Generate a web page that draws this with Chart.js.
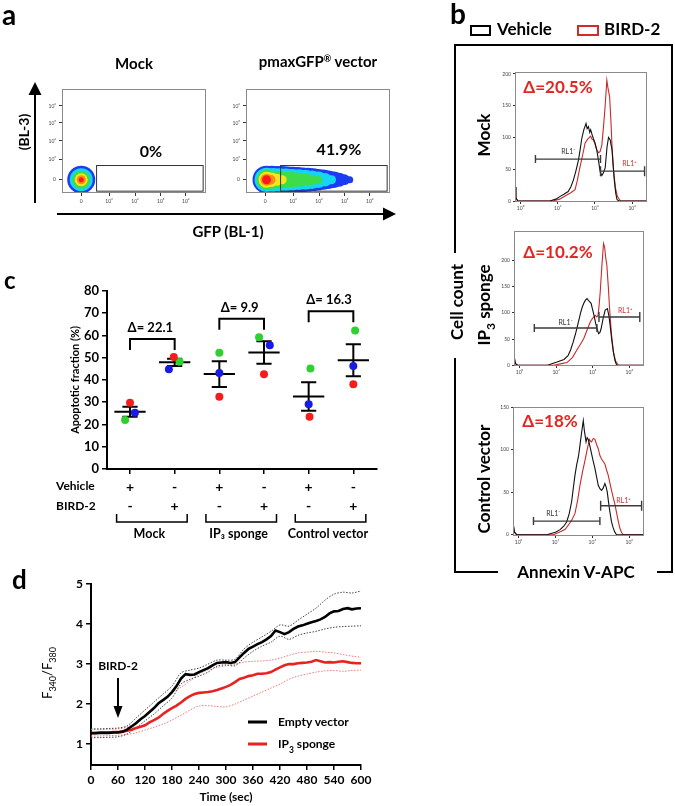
<!DOCTYPE html>
<html lang="en">
<head>
<meta charset="UTF-8">
<title>BIRD-2 / IP3 sponge figure</title>
<script src="https://cdn.jsdelivr.net/npm/chart.js"></script>
<style>
  body { margin: 0; background: #fff; }
  #fig { position: relative; width: 675px; height: 806px; background: #fff; }
  canvas { position: absolute; }
  #overlay { position: absolute; left: 0; top: 0; pointer-events: none; }
</style>
</head>
<body>
<div id="fig">
  <canvas id="gfpMock" width="182" height="140" style="left:38px;top:75px"></canvas>
  <canvas id="gfpVector" width="182" height="140" style="left:222px;top:75px"></canvas>
  <canvas id="histMock" width="165" height="152" style="left:490px;top:62px"></canvas>
  <canvas id="histSponge" width="163" height="157" style="left:489px;top:221px"></canvas>
  <canvas id="histControl" width="164" height="151" style="left:488px;top:397px"></canvas>
  <canvas id="apoptosis" width="345" height="270" style="left:40px;top:280px"></canvas>
  <canvas id="calcium" width="335" height="232" style="left:40px;top:574px"></canvas>

  <svg id="overlay" width="675" height="806" font-family="Lato, 'Noto Sans', sans-serif" font-weight="bold">
    <text x="2" y="25" font-size="28">a</text>
    <text x="450" y="24" font-size="28">b</text>
    <text x="4" y="289" font-size="24">c</text>
    <text x="12" y="589" font-size="26">d</text>

    <!-- panel a -->
    <text x="134" y="69" font-size="15" text-anchor="middle">Mock</text>
    <text x="318" y="67" font-size="15" text-anchor="middle">pmaxGFP<tspan font-size="9" baseline-shift="super">®</tspan> vector</text>
    <text font-size="14" text-anchor="middle" dominant-baseline="central" transform="translate(23,132) rotate(-90)">(BL-3)</text>
    <line x1="35" y1="203" x2="35" y2="92" stroke="#000" stroke-width="2"/>
    <polygon points="35,82 28.5,95 41.5,95" fill="#000"/>
    <line x1="57" y1="214" x2="385" y2="214" stroke="#000" stroke-width="2"/>
    <polygon points="396,214 383,207.5 383,220.5" fill="#000"/>
    <text x="228" y="237" font-size="15" text-anchor="middle">GFP (BL-1)</text>
    <text x="151" y="157" font-size="16" text-anchor="middle">0%</text>
    <text x="339" y="155" font-size="16" text-anchor="middle">41.9%</text>

    <!-- panel b -->
    <rect x="471" y="26" width="19" height="9" fill="none" stroke="#000" stroke-width="2"/>
    <text x="497" y="35" font-size="17">Vehicle</text>
    <rect x="578" y="26" width="20" height="9" fill="none" stroke="#d42a2a" stroke-width="2"/>
    <text x="604" y="35" font-size="17">BIRD-2</text>
    <path d="M455,253 V45 H672 V572 H657 M498,572 H455 V358" fill="none" stroke="#000" stroke-width="2"/>
    <text font-size="17" text-anchor="middle" dominant-baseline="central" transform="translate(456,302) rotate(-90)">Cell count</text>
    <text x="576" y="578" font-size="17" text-anchor="middle">Annexin V-APC</text>
    <text font-size="17" text-anchor="middle" dominant-baseline="central" transform="translate(483,135) rotate(-90)">Mock</text>
    <text font-size="17" text-anchor="middle" dominant-baseline="central" transform="translate(483,305) rotate(-90)">IP<tspan font-size="12" baseline-shift="sub">3</tspan> sponge</text>
    <text font-size="17" text-anchor="middle" dominant-baseline="central" transform="translate(483,479) rotate(-90)">Control vector</text>
    <text x="558" y="93" font-size="17" fill="#e3261f" text-anchor="middle">Δ=20.5%</text>
    <text x="558" y="258" font-size="17" fill="#e3261f" text-anchor="middle">Δ=10.2%</text>
    <text x="550" y="427" font-size="17" fill="#e3261f" text-anchor="middle">Δ=18%</text>

    <!-- panel d -->
    <text font-size="13" font-weight="normal" text-anchor="middle" dominant-baseline="central" transform="translate(47,673) rotate(-90)">F<tspan font-size="9" baseline-shift="sub">340</tspan>/F<tspan font-size="9" baseline-shift="sub">380</tspan></text>
    <line x1="248" y1="722" x2="267" y2="722" stroke="#000" stroke-width="3"/>
    <text x="278" y="726" font-size="12">Empty vector</text>
    <line x1="248" y1="744" x2="267" y2="744" stroke="#e8231f" stroke-width="3"/>
    <text x="278" y="748" font-size="12">IP<tspan font-size="8.5" baseline-shift="sub">3</tspan> sponge</text>
  </svg>
</div>

<script>
// ---------- panel a: GFP density (log decades, BL-1 vs BL-3) ----------
const decadeLabels = ['0', '10³', '10⁴', '10⁵', '10⁶'];
const gfpXTicks = [0, 1.07, 2.07, 3.06, 4.02];
const gfpYTicks = [0, 1.08, 2.1, 3.08, 4.0];
const gfpGate = [0.59, 4.69, -0.62, 0.77];   // x from, x to, y from, y to

// density layers, outer (low) to inner (high)
const mockBlue   = [{x: 0, y: 0, r: 14}];
const mockCyan   = [{x: 0, y: 0, r: 11.5}];
const mockGreen  = [{x: 0, y: 0, r: 9}];
const mockYellow = [{x: 0, y: 0, r: 6.5}];
const mockOrange = [{x: 0, y: 0, r: 4.5}];
const mockRed    = [{x: 0, y: 0, r: 2.5}];

const gfpBlue = [
  {x: 0.05, y: 0, r: 14}, {x: 0.25, y: 0, r: 14}, {x: 0.45, y: 0, r: 13.8}, {x: 0.65, y: 0, r: 13.6},
  {x: 0.85, y: 0, r: 13.3}, {x: 1.05, y: 0, r: 13}, {x: 1.25, y: 0, r: 12.7}, {x: 1.45, y: 0, r: 12.3},
  {x: 1.65, y: 0, r: 11.9}, {x: 1.85, y: 0, r: 11.4}, {x: 2.05, y: 0, r: 10.8}, {x: 2.25, y: 0, r: 10.1},
  {x: 2.45, y: 0, r: 9.3}, {x: 2.65, y: 0, r: 8.3}, {x: 2.85, y: 0, r: 7}, {x: 3.05, y: 0, r: 5.4}, {x: 3.25, y: 0, r: 3.5}];
const gfpCyan = [
  {x: 0.05, y: 0, r: 12}, {x: 0.3, y: 0, r: 11.8}, {x: 0.55, y: 0, r: 11.5}, {x: 0.8, y: 0, r: 11.2},
  {x: 1.05, y: 0, r: 10.8}, {x: 1.3, y: 0, r: 10.4}, {x: 1.55, y: 0, r: 9.9}, {x: 1.8, y: 0, r: 9.2},
  {x: 2.05, y: 0, r: 8.2}, {x: 2.3, y: 0, r: 6.8}, {x: 2.55, y: 0, r: 4.5}];
const gfpGreen = [
  {x: 0.05, y: 0, r: 10}, {x: 0.3, y: 0, r: 9.3}, {x: 0.55, y: 0, r: 8.7}, {x: 0.8, y: 0, r: 8.2},
  {x: 1.05, y: 0, r: 7.6}, {x: 1.3, y: 0, r: 7}, {x: 1.55, y: 0, r: 6.2}, {x: 1.8, y: 0, r: 5.2}, {x: 2.05, y: 0, r: 3.8}];
const gfpYellow = [{x: 0.05, y: 0, r: 8}, {x: 0.25, y: 0, r: 7.2}, {x: 0.45, y: 0, r: 6}, {x: 0.65, y: 0, r: 4.5}];
const gfpOrange = [{x: 0.05, y: 0, r: 6}, {x: 0.2, y: 0, r: 5}];
const gfpRed    = [{x: 0.05, y: 0, r: 4.5}];

const densityColors = ['#ff1a1a', '#ff8a1a', '#f5e61a', '#3ddc4a', '#14d6f0', '#1c3cf2'];

// ---------- panel b: Annexin V-APC histograms (x = log10 intensity) ----------
const histTickLabels = ['10⁰', '10²', '10⁴', '10⁶'];

const mockVehicle = [[-0.3,22],[-0.25,5],[-0.15,0],[1.57,0],[1.9,3],[2.11,7],[2.35,11],[2.56,15],[2.7,22],[2.84,33],[2.98,48],
  [3.11,64],[3.2,80],[3.29,98],[3.4,112],[3.52,122],[3.58,114],[3.65,117],[3.72,108],[3.77,112],[3.85,104],[3.92,98],[4.0,92],
  [4.1,80],[4.2,62],[4.28,46],[4.37,40],[4.45,44],[4.55,52],[4.65,85],[4.73,100],[4.82,96],[4.92,80],[4.98,55],[5.04,33],
  [5.12,12],[5.19,2],[5.3,0],[6.8,0]];
const mockBird = [[-0.3,22],[-0.25,5],[-0.15,0],[1.75,0],[2.1,3],[2.39,8],[2.7,13],[2.93,18],[3.05,32],[3.2,54],[3.35,74],
  [3.47,91],[3.6,97],[3.7,100],[3.77,102],[3.85,97],[3.92,96],[4.0,90],[4.1,80],[4.2,76],[4.28,78],[4.37,88],[4.46,117],
  [4.55,150],[4.64,190],[4.7,178],[4.79,164],[4.86,125],[4.92,85],[5.0,50],[5.1,21],[5.2,8],[5.37,0],[6.8,0]];

const spongeVehicle = [[-0.3,18],[-0.22,3],[-0.1,0],[1.53,0],[2.05,6],[2.43,11],[2.65,18],[2.79,29],[2.93,44],[3.06,60],
  [3.2,80],[3.33,99],[3.42,110],[3.51,118],[3.6,124],[3.69,127],[3.8,122],[3.91,118],[4.0,105],[4.09,92],[4.16,80],[4.23,70],
  [4.32,60],[4.4,63],[4.46,70],[4.57,90],[4.68,105],[4.8,108],[4.88,95],[4.95,76],[5.05,45],[5.13,25],[5.22,8],[5.31,0],[6.8,0]];
const spongeBird = [[-0.3,18],[-0.22,3],[-0.1,0],[1.87,0],[2.3,3],[2.59,5],[2.9,15],[3.13,29],[3.33,40],[3.51,51],[3.7,68],
  [3.87,83],[4.0,90],[4.14,95],[4.22,92],[4.29,95],[4.35,115],[4.41,140],[4.5,190],[4.59,232],[4.65,225],[4.71,205],[4.77,191],
  [4.85,150],[4.92,108],[5.02,60],[5.13,25],[5.25,8],[5.4,0],[6.8,0]];

const controlVehicle = [[-0.3,14],[-0.22,3],[-0.1,0],[1.53,0],[2.0,3],[2.25,6],[2.45,10],[2.61,15],[2.75,25],[2.88,39],
  [2.97,55],[3.06,70],[3.15,82],[3.24,91],[3.3,100],[3.37,112],[3.45,125],[3.51,134],[3.57,122],[3.66,109],[3.72,114],
  [3.78,112],[3.87,104],[3.96,95],[4.05,86],[4.14,78],[4.23,68],[4.32,58],[4.41,54],[4.5,52],[4.59,55],[4.68,60],[4.75,56],
  [4.81,50],[4.88,38],[4.95,27],[5.04,15],[5.13,8],[5.22,3],[5.31,0],[6.8,0]];
const controlBird = [[-0.3,14],[-0.22,3],[-0.1,0],[1.89,0],[2.2,3],[2.52,6],[2.79,14],[2.93,19],[3.06,25],[3.2,40],[3.33,58],
  [3.47,74],[3.6,87],[3.72,100],[3.84,112],[3.9,110],[3.96,109],[4.05,113],[4.14,112],[4.23,106],[4.32,101],[4.41,93],
  [4.5,89],[4.59,86],[4.68,83],[4.77,76],[4.86,70],[4.95,61],[5.04,52],[5.14,43],[5.23,35],[5.32,25],[5.41,15.5],[5.5,7],
  [5.6,2],[5.68,0],[6.8,0]];

// gates: [from, to, level]
const mockGates    = [[0.8, 4.3, 66], [4.3, 6.67, 47]];
const spongeGates  = [[0.81, 4.23, 71], [4.34, 6.57, 92]];
const controlGates = [[0.81, 4.41, 16], [4.45, 6.67, 34]];
const mockGateText    = [[2.57, 77], [5.85, 58]];
const spongeGateText  = [[2.52, 81], [5.77, 103]];
const controlGateText = [[1.89, 25], [5.68, 40]];

// ---------- panel c: apoptotic fraction ----------
const groupPos   = [1, 2, 3, 4, 5, 6];
const vehicleRow = ['+', '-', '+', '-', '+', '-'];
const birdRow    = ['-', '+', '-', '+', '-', '+'];
const groupNames = ['Mock', 'IP₃ sponge', 'Control vector'];
const redVals   = [29.7, 50.3, 32.4, 42.5, 23.5, 38.1];
const blueVals  = [25.3, 44.8, 43.1, 55.5, 29.1, 46.2];
const greenVals = [22.0, 48.2, 52.2, 59.2, 45.1, 62.2];
const redDx   = [0, -0.02, 0, 0, 0.02, 0];
const blueDx  = [0.11, -0.13, 0, 0.13, 0, 0];
const greenDx = [-0.11, 0.11, 0, -0.11, 0.04, 0.04];
const groupMean = [25.7, 47.9, 42.6, 52.3, 32.6, 48.8];
const groupSem  = [2.25, 1.65, 5.8, 5.05, 6.4, 7.15];
const deltas     = ['22.1', '9.9', '16.3'];
const bracketTop = [58.4, 67.4, 70.8];

// ---------- panel d: Fura-2 ratio ----------
const time = [0,10,20,30,40,50,60,70,80,90,100,110,120,130,140,150,160,170,180,190,200,210,220,230,240,250,260,270,280,290,
  300,310,320,330,340,350,360,370,380,390,400,410,420,430,440,450,460,470,480,490,500,510,520,530,540,550,560,570,580,590,600];
const emptyVector = [1.27,1.27,1.28,1.28,1.28,1.29,1.29,1.31,1.36,1.44,1.52,1.62,1.70,1.80,1.90,2.02,2.10,2.18,2.30,2.45,
  2.64,2.75,2.73,2.74,2.80,2.85,2.90,2.97,3.03,3.04,3.05,3.03,3.05,3.17,3.28,3.38,3.44,3.50,3.55,3.62,3.70,3.84,3.80,3.75,
  3.80,3.88,3.94,3.97,4.01,4.05,4.08,4.12,4.18,4.27,4.32,4.33,4.38,4.40,4.37,4.39,4.40];
const ip3Sponge = [1.28,1.28,1.29,1.29,1.29,1.30,1.30,1.31,1.33,1.36,1.40,1.43,1.47,1.54,1.60,1.66,1.75,1.83,1.90,1.96,
  2.04,2.13,2.20,2.25,2.28,2.29,2.30,2.32,2.35,2.39,2.43,2.48,2.55,2.63,2.66,2.70,2.72,2.76,2.76,2.77,2.80,2.86,2.92,2.97,
  3.00,3.00,3.02,3.03,3.04,3.06,3.10,3.07,3.04,3.05,3.04,3.06,3.07,3.05,3.03,3.02,3.02];
const bandTime = [0,20,40,60,80,100,120,140,160,180,200,220,240,260,280,300,320,340,360,380,400,420,440,460,480,500,520,540,560,580,600];
const emptyUpper = [1.38,1.38,1.39,1.40,1.45,1.65,1.85,2.05,2.25,2.45,2.78,2.85,2.90,3.00,3.10,3.10,3.12,3.38,3.55,3.68,3.82,
  3.98,3.95,4.10,4.25,4.40,4.60,4.75,4.80,4.78,4.83];
const emptyLower = [1.16,1.16,1.17,1.18,1.25,1.40,1.58,1.75,1.95,2.15,2.50,2.62,2.70,2.80,2.95,2.98,2.96,3.15,3.32,3.45,3.55,
  3.70,3.62,3.72,3.78,3.82,3.88,3.92,3.94,3.95,3.96];
const spongeUpper = [1.36,1.36,1.37,1.38,1.42,1.55,1.72,1.92,2.12,2.30,2.42,2.58,2.75,2.86,2.92,2.96,3.00,3.05,3.07,3.08,3.10,
  3.15,3.22,3.28,3.30,3.32,3.30,3.28,3.24,3.20,3.17];
const spongeLower = [1.20,1.20,1.21,1.22,1.24,1.28,1.35,1.42,1.50,1.60,1.72,1.85,1.95,1.96,1.94,1.93,2.00,2.10,2.20,2.30,2.40,
  2.50,2.62,2.70,2.75,2.80,2.83,2.84,2.82,2.84,2.85];
const bird2Time = 60;
const arrowFrom = 2.65, arrowTo = 1.65;

// ---------------------------------------------------------------------
const FONT = 'Lato, "Noto Sans", sans-serif';
Chart.defaults.font.family = FONT;
Chart.defaults.color = '#000';
Chart.defaults.animation = false;
Chart.defaults.plugins.legend.display = false;
Chart.defaults.plugins.tooltip.enabled = false;

const toXY = pairs => pairs.map(p => ({x: p[0], y: p[1]}));
const fixedTicks = vals => scale => { scale.ticks = vals.map(v => ({value: v})); };

// panel a ------------------------------------------------------------
function gfpChart(id, layers) {
  const boxPlugin = {
    id: 'gfpBox',
    afterDatasetsDraw(chart) {
      const {ctx, chartArea: a, scales: {x, y}} = chart;
      ctx.save();
      ctx.strokeStyle = '#8a8a8a';
      ctx.lineWidth = 1;
      ctx.strokeRect(a.left + 0.5, a.top + 0.5, a.width - 1, a.height - 1);
      ctx.strokeStyle = '#333';
      const gx1 = x.getPixelForValue(gfpGate[0]), gx2 = x.getPixelForValue(gfpGate[1]);
      const gy1 = y.getPixelForValue(gfpGate[2]), gy2 = y.getPixelForValue(gfpGate[3]);
      ctx.strokeRect(gx1, gy2, gx2 - gx1, gy1 - gy2);
      ctx.restore();
    }
  };
  new Chart(document.getElementById(id), {
    type: 'bubble',
    data: {
      datasets: layers.map((d, i) => ({
        data: d, backgroundColor: densityColors[i], borderWidth: 0, hoverBorderWidth: 0
      }))
    },
    options: {
      responsive: false,
      layout: {padding: {left: 4, right: 8, top: 8, bottom: 8}},
      scales: {
        x: {
          type: 'linear', min: -0.74, max: 4.8,
          afterBuildTicks: fixedTicks(gfpXTicks),
          afterFit: s => { s.height = 14; },
          border: {display: false},
          grid: {drawOnChartArea: false, tickLength: 3, color: '#333'},
          ticks: {font: {size: 5}, color: '#444', padding: 2, autoSkip: false, maxRotation: 0,
                  callback: (v, i) => decadeLabels[i]}
        },
        y: {
          type: 'linear', min: -0.72, max: 4.92,
          afterBuildTicks: fixedTicks(gfpYTicks),
          afterFit: s => { s.width = 20; },
          border: {display: false},
          grid: {drawOnChartArea: false, tickLength: 3, color: '#333'},
          ticks: {font: {size: 5}, color: '#444', padding: 3, autoSkip: false,
                  callback: (v, i) => decadeLabels[i]}
        }
      }
    },
    plugins: [boxPlugin]
  });
}
gfpChart('gfpMock', [mockRed, mockOrange, mockYellow, mockGreen, mockCyan, mockBlue]);
gfpChart('gfpVector', [gfpRed, gfpOrange, gfpYellow, gfpGreen, gfpCyan, gfpBlue]);

// panel b ------------------------------------------------------------
function histChart(id, vehicle, bird, yMax, yTicks, gates, gateText, pad) {
  const gatePlugin = {
    id: 'gates',
    afterDatasetsDraw(chart) {
      const {ctx, chartArea: a, scales: {x, y}} = chart;
      ctx.save();
      ctx.strokeStyle = '#8a8a8a';
      ctx.lineWidth = 1;
      ctx.strokeRect(a.left + 0.5, a.top + 0.5, a.width - 1, a.height - 1);
      ctx.strokeStyle = '#3a3a3a';
      ctx.lineWidth = 1.4;
      gates.forEach((g, i) => {
        const x1 = x.getPixelForValue(g[0]), x2 = x.getPixelForValue(g[1]), py = y.getPixelForValue(g[2]);
        const cap = i === 0 ? 4 : 5;
        ctx.beginPath();
        ctx.moveTo(x1, py); ctx.lineTo(x2, py);
        ctx.moveTo(x1, py - cap); ctx.lineTo(x1, py + cap);
        ctx.moveTo(x2, py - cap); ctx.lineTo(x2, py + cap);
        ctx.stroke();
      });
      ctx.font = '7px ' + FONT;
      ctx.textAlign = 'center';
      ctx.textBaseline = 'middle';
      ctx.fillStyle = '#333';
      ctx.fillText('RL1⁻', x.getPixelForValue(gateText[0][0]), y.getPixelForValue(gateText[0][1]));
      ctx.fillStyle = '#d8302c';
      ctx.fillText('RL1⁺', x.getPixelForValue(gateText[1][0]), y.getPixelForValue(gateText[1][1]));
      ctx.restore();
    }
  };
  new Chart(document.getElementById(id), {
    type: 'line',
    data: {
      datasets: [
        {data: toXY(vehicle), borderColor: '#111', borderWidth: 1.1, pointRadius: 0, tension: 0},
        {data: toXY(bird), borderColor: '#c92a2a', borderWidth: 1.1, pointRadius: 0, tension: 0}
      ]
    },
    options: {
      responsive: false,
      layout: {padding: pad},
      scales: {
        x: {
          type: 'linear', min: -0.3, max: 6.8,
          afterBuildTicks: fixedTicks([0, 2, 4, 6]),
          afterFit: s => { s.height = 10; },
          border: {display: false},
          grid: {drawOnChartArea: false, tickLength: 2, color: '#333'},
          ticks: {font: {size: 5}, color: '#444', padding: 1, autoSkip: false, maxRotation: 0,
                  callback: (v, i) => histTickLabels[i]}
        },
        y: {
          type: 'linear', min: -1.5, max: yMax,
          afterBuildTicks: fixedTicks(yTicks),
          afterFit: s => { s.width = 20; },
          border: {display: false},
          grid: {drawOnChartArea: false, tickLength: 2, color: '#333'},
          ticks: {font: {size: 5}, color: '#444', padding: 2, autoSkip: false}
        }
      }
    },
    plugins: [gatePlugin]
  });
}
histChart('histMock', mockVehicle, mockBird, 203, [0, 50, 100, 150, 200], mockGates, mockGateText,
          {left: 5, right: 8, top: 10, bottom: 2});
histChart('histSponge', spongeVehicle, spongeBird, 256, [0, 50, 100, 150, 200], spongeGates, spongeGateText,
          {left: 5, right: 8, top: 10, bottom: 2});
histChart('histControl', controlVehicle, controlBird, 150, [0, 50, 100, 150], controlGates, controlGateText,
          {left: 5, right: 8, top: 10, bottom: 2});

// panel c ------------------------------------------------------------
const meanSemSegments = [];
groupPos.forEach((p, i) => {
  const m = groupMean[i], s = groupSem[i];
  meanSemSegments.push({x: p - 0.35, y: m}, {x: p + 0.35, y: m}, {x: p, y: null});
  meanSemSegments.push({x: p - 0.17, y: m + s}, {x: p + 0.17, y: m + s}, {x: p, y: null});
  meanSemSegments.push({x: p - 0.17, y: m - s}, {x: p + 0.17, y: m - s}, {x: p, y: null});
  meanSemSegments.push({x: p, y: m - s}, {x: p, y: m + s}, {x: p, y: null});
});
const dots = (vals, dx) => vals.map((v, i) => ({x: groupPos[i] + dx[i], y: v}));

const cExtras = {
  id: 'cExtras',
  afterDraw(chart) {
    const {ctx, chartArea: a, scales: {x, y}} = chart;
    ctx.save();
    ctx.strokeStyle = '#000';
    ctx.fillStyle = '#000';
    ctx.lineWidth = 2;
    ctx.textAlign = 'center';
    ctx.textBaseline = 'middle';
    // delta brackets above the pairs
    ctx.font = 'bold 13px ' + FONT;
    deltas.forEach((d, i) => {
      const x1 = x.getPixelForValue(groupPos[2 * i]), x2 = x.getPixelForValue(groupPos[2 * i + 1]);
      const yt = y.getPixelForValue(bracketTop[i]);
      ctx.beginPath();
      ctx.moveTo(x1, yt + 11); ctx.lineTo(x1, yt); ctx.lineTo(x2, yt); ctx.lineTo(x2, yt + 11);
      ctx.stroke();
      ctx.fillText('Δ= ' + d, (x1 + x2) / 2 - 2, yt - 11);
    });
    // treatment rows
    ctx.font = 'bold 14px ' + FONT;
    groupPos.forEach((p, i) => {
      const px = x.getPixelForValue(p);
      ctx.fillText(vehicleRow[i], px, a.bottom + 18);
      ctx.fillText(birdRow[i], px, a.bottom + 37);
    });
    ctx.font = 'bold 12px ' + FONT;
    ctx.textAlign = 'left';
    ctx.fillText('Vehicle', a.left - 51, a.bottom + 17);
    ctx.fillText('BIRD-2', a.left - 51, a.bottom + 37);
    // group brackets and names
    ctx.textAlign = 'center';
    ctx.lineWidth = 1.5;
    ctx.font = 'bold 12.5px ' + FONT;
    groupNames.forEach((g, i) => {
      const c = (groupPos[2 * i] + groupPos[2 * i + 1]) / 2;
      const x1 = x.getPixelForValue(c - 0.8), x2 = x.getPixelForValue(c + 0.78);
      const yb = a.bottom + 53;
      ctx.beginPath();
      ctx.moveTo(x1, yb - 8); ctx.lineTo(x1, yb); ctx.lineTo(x2, yb); ctx.lineTo(x2, yb - 8);
      ctx.stroke();
      ctx.fillText(g, x.getPixelForValue(c) - 3, a.bottom + 65);
    });
    ctx.restore();
  }
};

new Chart(document.getElementById('apoptosis'), {
  type: 'scatter',
  data: {
    datasets: [
      {data: dots(redVals, redDx), backgroundColor: '#f41c1c', pointRadius: 4, borderWidth: 0},
      {data: dots(blueVals, blueDx), backgroundColor: '#1a1ae6', pointRadius: 4, borderWidth: 0},
      {data: dots(greenVals, greenDx), backgroundColor: '#2fd02f', pointRadius: 4, borderWidth: 0},
      {data: meanSemSegments, showLine: true, spanGaps: false, borderColor: '#000', borderWidth: 2,
       pointRadius: 0, tension: 0}
    ]
  },
  options: {
    responsive: false,
    layout: {padding: {left: 25, right: 8, top: 10, bottom: 75}},
    scales: {
      x: {
        type: 'linear', min: 0.485, max: 6.53,
        afterBuildTicks: fixedTicks(groupPos),
        afterFit: s => { s.height = 6; },
        border: {color: '#000', width: 2},
        grid: {drawOnChartArea: false, tickLength: 5, color: '#000', lineWidth: 1.5},
        ticks: {display: false}
      },
      y: {
        type: 'linear', min: 0, max: 80,
        ticks: {stepSize: 10, font: {size: 13, weight: 'bold'}, padding: 3},
        afterFit: s => { s.width = 42; },
        border: {color: '#000', width: 2},
        grid: {drawOnChartArea: false, tickLength: 5, color: '#000', lineWidth: 1.5},
        title: {display: true, text: 'Apoptotic fraction (%)', font: {size: 11, weight: 'bold'}, padding: {top: 4, bottom: 4}}
      }
    }
  },
  plugins: [cExtras]
});

// panel d ------------------------------------------------------------
const series = (xs, ys) => ys.map((v, i) => ({x: xs[i], y: v}));
const birdArrow = {
  id: 'birdArrow',
  afterDatasetsDraw(chart) {
    const {ctx, scales: {x, y}} = chart;
    const px = x.getPixelForValue(bird2Time);
    const y0 = y.getPixelForValue(arrowFrom), y1 = y.getPixelForValue(arrowTo);
    ctx.save();
    ctx.strokeStyle = '#000';
    ctx.fillStyle = '#000';
    ctx.lineWidth = 2;
    ctx.beginPath(); ctx.moveTo(px, y0); ctx.lineTo(px, y1 - 10); ctx.stroke();
    ctx.beginPath(); ctx.moveTo(px, y1); ctx.lineTo(px - 4.5, y1 - 12); ctx.lineTo(px + 4.5, y1 - 12); ctx.closePath(); ctx.fill();
    ctx.font = 'bold 12px ' + FONT;
    ctx.textAlign = 'center';
    ctx.fillText('BIRD-2', px, y0 - 8);
    ctx.restore();
  }
};

new Chart(document.getElementById('calcium'), {
  type: 'line',
  data: {
    datasets: [
      {data: series(time, emptyVector), borderColor: '#000', borderWidth: 2.6, pointRadius: 0, tension: 0},
      {data: series(time, ip3Sponge), borderColor: '#e8231f', borderWidth: 2.6, pointRadius: 0, tension: 0},
      {data: series(bandTime, emptyUpper), borderColor: '#444', borderWidth: 1, borderDash: [1.5, 1.5], pointRadius: 0, tension: 0.3},
      {data: series(bandTime, emptyLower), borderColor: '#444', borderWidth: 1, borderDash: [1.5, 1.5], pointRadius: 0, tension: 0.3},
      {data: series(bandTime, spongeUpper), borderColor: '#f07a78', borderWidth: 1, borderDash: [1.5, 1.5], pointRadius: 0, tension: 0.3},
      {data: series(bandTime, spongeLower), borderColor: '#f07a78', borderWidth: 1, borderDash: [1.5, 1.5], pointRadius: 0, tension: 0.3}
    ]
  },
  options: {
    responsive: false,
    layout: {padding: {left: 10, right: 14, top: 10, bottom: 0}},
    scales: {
      x: {
        type: 'linear', min: 0, max: 600,
        ticks: {stepSize: 60, font: {size: 12, weight: 'bold'}, padding: 3, maxRotation: 0, autoSkip: false},
        afterFit: s => { s.height = 41; },
        border: {color: '#000', width: 2},
        grid: {drawOnChartArea: false, tickLength: 5, color: '#000', lineWidth: 1.5},
        title: {display: true, text: 'Time (sec)', font: {size: 12, weight: 'bold'}, padding: {top: 0, bottom: 2}}
      },
      y: {
        type: 'linear', min: 0.475, max: 5,
        afterBuildTicks: fixedTicks([1, 2, 3, 4, 5]),
        ticks: {font: {size: 12, weight: 'bold'}, padding: 3},
        afterFit: s => { s.width = 41; },
        border: {color: '#000', width: 2},
        grid: {drawOnChartArea: false, tickLength: 5, color: '#000', lineWidth: 1.5}
      }
    }
  },
  plugins: [birdArrow]
});
</script>
</body>
</html>
